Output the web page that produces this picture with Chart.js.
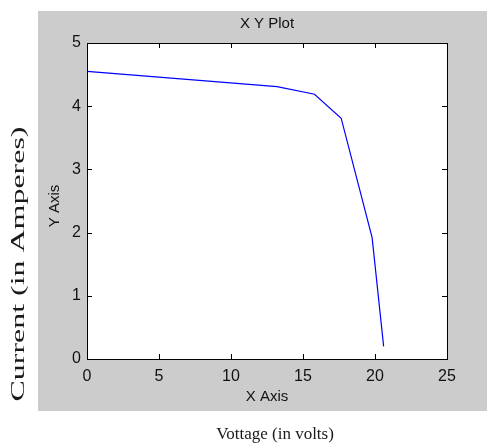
<!DOCTYPE html>
<html>
<head>
<meta charset="utf-8">
<script src="https://cdn.jsdelivr.net/npm/chart.js@4.4.1/dist/chart.umd.min.js"></script>
<style>
  html, body { margin: 0; padding: 0; background: #fff; }
  #wrap { width: 487px; height: 445px; position: relative; }
</style>
</head>
<body>
<div id="wrap"><canvas id="c1"></canvas></div>
<script>
// voltage (V) and current (A)
const voltage = [0, 13.2, 15.8, 17.65, 19.8, 20.6];
const current = [4.55, 4.31, 4.19, 3.81, 1.92, 0.2];
const xTicks = [0, 5, 10, 15, 20, 25];
const yTicks = [0, 1, 2, 3, 4, 5];

const plotTitle = 'X Y Plot';
const xAxisName = 'X Axis';
const yAxisName = 'Y Axis';
const outerXLabel = 'Vottage (in volts)';
const outerYLabel = 'Current (in Amperes)';

const sans = '"Liberation Sans", Arial, sans-serif';
const serif = '"Liberation Serif", "Times New Roman", serif';

const figurePlugin = {
    id: 'figure',
    beforeDraw(chart) {
        const ctx = chart.ctx;
        const a = chart.chartArea;
        ctx.save();
        // gray figure panel
        ctx.fillStyle = '#cccccc';
        ctx.fillRect(38, 11, chart.width - 38, 400);
        // white axes
        ctx.fillStyle = '#ffffff';
        ctx.fillRect(a.left, a.top, a.right - a.left, a.bottom - a.top);
        ctx.restore();
    },
    afterDraw(chart) {
        const ctx = chart.ctx;
        const a = chart.chartArea;
        const xs = chart.scales.x, ys = chart.scales.y;
        const tl = 5;
        ctx.save();
        ctx.strokeStyle = '#000';
        ctx.lineWidth = 1;
        ctx.beginPath();
        xTicks.forEach(v => {
            const px = Math.round(xs.getPixelForValue(v)) + 0.5;
            ctx.moveTo(px, a.bottom); ctx.lineTo(px, a.bottom - tl);
            ctx.moveTo(px, a.top); ctx.lineTo(px, a.top + tl);
        });
        yTicks.forEach(v => {
            const py = Math.round(ys.getPixelForValue(v)) + 0.5;
            ctx.moveTo(a.left, py); ctx.lineTo(a.left + tl, py);
            ctx.moveTo(a.right, py); ctx.lineTo(a.right - tl, py);
        });
        ctx.stroke();
        ctx.strokeRect(Math.round(a.left) + 0.5, Math.round(a.top) + 0.5,
            Math.round(a.right - a.left), Math.round(a.bottom - a.top));

        // titles
        ctx.fillStyle = '#111';
        ctx.textAlign = 'center';
        ctx.textBaseline = 'middle';
        ctx.font = '15px ' + sans;
        ctx.fillText(plotTitle, (a.left + a.right) / 2, 24);
        ctx.fillText(xAxisName, (a.left + a.right) / 2, 397);
        ctx.save();
        ctx.translate(55, 206);
        ctx.rotate(-Math.PI / 2);
        ctx.fillText(yAxisName, 0, 0);
        ctx.restore();

        // outer labels (serif, outside the panel)
        ctx.fillStyle = '#1a1a1a';
        ctx.font = '17px ' + serif;
        ctx.fillText(outerXLabel, 275, 435);
        ctx.save();
        ctx.translate(19, 264);
        ctx.rotate(-Math.PI / 2);
        ctx.font = '18px ' + serif;
        const w = ctx.measureText(outerYLabel).width;
        ctx.scale(275 / w, 1);
        ctx.fillText(outerYLabel, 0, 0);
        ctx.restore();
        ctx.restore();
    }
};

new Chart(document.getElementById('c1'), {
    type: 'scatter',
    data: {
        datasets: [{
            data: voltage.map((v, i) => ({ x: v, y: current[i] })),
            showLine: true,
            borderColor: '#0000ff',
            borderWidth: 1.2,
            pointRadius: 0,
            tension: 0
        }]
    },
    options: {
        responsive: true,
        maintainAspectRatio: false,
        animation: false,
        layout: { padding: { top: 43, right: 40, left: 0, bottom: 0 } },
        plugins: { legend: { display: false }, tooltip: { enabled: false } },
        scales: {
            x: {
                type: 'linear', min: 0, max: 25,
                afterFit: s => { s.height = 86; },
                afterBuildTicks: s => { s.ticks = xTicks.map(v => ({ value: v })); },
                grid: { display: false, drawTicks: false },
                border: { display: false },
                ticks: { padding: 8, color: '#111', font: { family: sans, size: 16 } }
            },
            y: {
                type: 'linear', min: 0, max: 5,
                afterFit: s => { s.width = 87; },
                afterBuildTicks: s => { s.ticks = yTicks.map(v => ({ value: v })); },
                grid: { display: false, drawTicks: false },
                border: { display: false },
                ticks: { padding: 6, color: '#111', font: { family: sans, size: 16 } }
            }
        }
    },
    plugins: [figurePlugin]
});
</script>
</body>
</html>
